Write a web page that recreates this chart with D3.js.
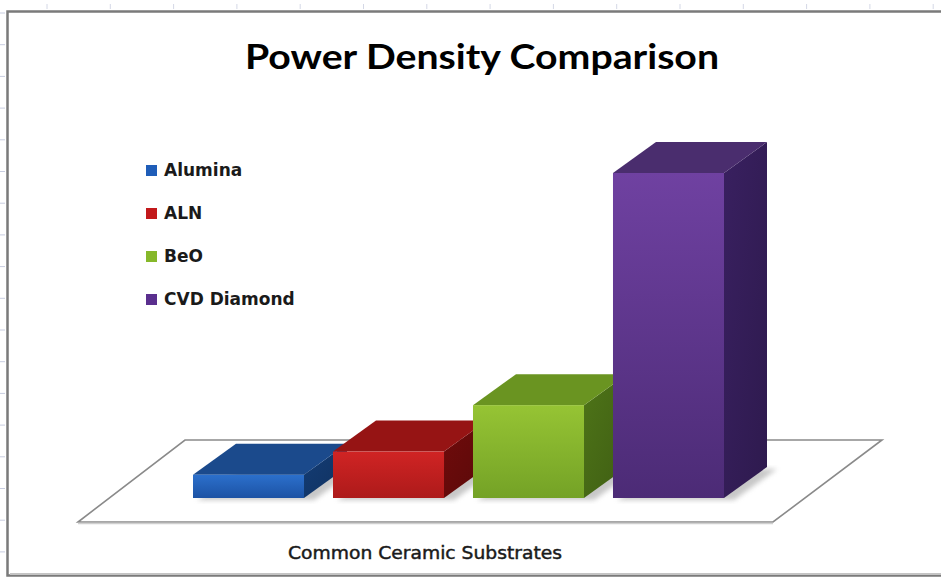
<!DOCTYPE html>
<html>
<head>
<meta charset="utf-8">
<script src="https://cdn.jsdelivr.net/npm/d3@7"></script>
<style>
  body { margin: 0; background: #fff; }
  svg { display: block; }
</style>
</head>
<body>
<div id="chart"></div>
<script>
// chart data
var categories = ["Alumina", "ALN", "BeO", "CVD Diamond"];
var values = [1, 2, 4, 14]; // relative power density
var frontTop = ["#2c70cc", "#d02424", "#96c434", "#6f41a1"];
var frontBottom = ["#1c52a4", "#ad1a1a", "#74a226", "#4c2b76"];
var topFace = ["#1b4a8c", "#961414", "#6a9421", "#4a2d6e"];
var sideFace = ["#143d76", "#700b0b", "#4e7418", "#392060"];
var legendColor = ["#1f5db8", "#c2191b", "#86b82a", "#5a2f8e"];

var W = 941, H = 580;
var svg = d3.select("#chart").append("svg")
    .attr("width", W)
    .attr("height", H);

var defs = svg.append("defs");

// excel-ish gradients on the bar faces
categories.forEach(function (c, i) {
    var g = defs.append("linearGradient").attr("id", "front" + i)
        .attr("x1", 0).attr("y1", 0).attr("x2", 0).attr("y2", 1);
    g.append("stop").attr("offset", "0%").attr("stop-color", frontTop[i]);
    g.append("stop").attr("offset", "100%").attr("stop-color", frontBottom[i]);

    var s = defs.append("linearGradient").attr("id", "side" + i)
        .attr("x1", 0).attr("y1", 0).attr("x2", 1).attr("y2", 1);
    s.append("stop").attr("offset", "0%").attr("stop-color", sideFace[i]);
    s.append("stop").attr("offset", "100%").attr("stop-color", d3.color(sideFace[i]).darker(0.6));
});

defs.append("filter").attr("id", "blur")
    .append("feGaussianBlur").attr("stdDeviation", 2.5);

// spreadsheet cell ticks around the chart object
var topTicks = d3.range(47, W, 63.3);
svg.append("g").selectAll("line").data(topTicks).enter().append("line")
    .attr("x1", function (d) { return d; }).attr("x2", function (d) { return d; })
    .attr("y1", 4).attr("y2", 9)
    .attr("stroke", "#d4d8e6").attr("stroke-width", 1);
var leftTicks = d3.range(13, H - 20, 31.7);
svg.append("g").selectAll("line").data(leftTicks).enter().append("line")
    .attr("x1", 0).attr("x2", 5)
    .attr("y1", function (d) { return d; }).attr("y2", function (d) { return d; })
    .attr("stroke", "#c8cde0").attr("stroke-width", 1);

// chart frame
svg.append("rect")
    .attr("x", 7.5).attr("y", 11.5)
    .attr("width", W + 5).attr("height", 564)
    .attr("fill", "#fff")
    .attr("stroke", "#7a7a7a").attr("stroke-width", 2.5);
svg.append("line")
    .attr("x1", 10).attr("x2", W).attr("y1", 574).attr("y2", 574)
    .attr("stroke", "#c4c4c4").attr("stroke-width", 2);

// scales
var x = d3.scaleBand()
    .domain(categories)
    .range([193, 724])
    .paddingInner(0.207)
    .paddingOuter(0);

var y = d3.scaleLinear()
    .domain([0, 14])
    .range([498, 173]);

var dx = 43, dy = -31; // depth of a bar

// floor plane
var base = y(0);
var floor = [
    [x.range()[0] - 115, base + 24],
    [x.range()[1] + 49, base + 24],
    [x.range()[1] + 158, base - 58],
    [x.range()[0] - 8, base - 58]
];
svg.append("polygon")
    .attr("points", floor.map(function (p) { return p.join(","); }).join(" "))
    .attr("fill", "#fff")
    .attr("stroke", "#8a8a8a")
    .attr("stroke-width", 1.6);
svg.append("line")
    .attr("x1", floor[0][0]).attr("x2", floor[1][0])
    .attr("y1", floor[0][1] + 1.5).attr("y2", floor[1][1] + 1.5)
    .attr("stroke", "#d0d0d0").attr("stroke-width", 1.5);

var bars = categories.map(function (c, i) {
    return { name: c, value: values[i], i: i };
});

// soft shadows on the floor
svg.append("g").selectAll("polygon").data(bars).enter().append("polygon")
    .attr("points", function (d) {
        var x0 = x(d.name) + 4, x1 = x(d.name) + x.bandwidth() + 10;
        return [[x0, base + 2], [x1, base + 2], [x1 + dx, base + dy + 2], [x0 + dx, base + dy + 2]]
            .map(function (p) { return p.join(","); }).join(" ");
    })
    .attr("fill", "#9a9a9a")
    .attr("opacity", 0.55)
    .attr("filter", "url(#blur)");

// 3d bars
var g = svg.append("g").selectAll("g").data(bars).enter().append("g");

g.append("polygon") // side
    .attr("points", function (d) {
        var x1 = x(d.name) + x.bandwidth(), yt = y(d.value);
        return [[x1, yt], [x1 + dx, yt + dy], [x1 + dx, base + dy], [x1, base]]
            .map(function (p) { return p.join(","); }).join(" ");
    })
    .attr("fill", function (d) { return "url(#side" + d.i + ")"; });

g.append("polygon") // top
    .attr("points", function (d) {
        var x0 = x(d.name), x1 = x0 + x.bandwidth(), yt = y(d.value);
        return [[x0, yt], [x1, yt], [x1 + dx, yt + dy], [x0 + dx, yt + dy]]
            .map(function (p) { return p.join(","); }).join(" ");
    })
    .attr("fill", function (d) { return topFace[d.i]; });

g.append("rect") // front
    .attr("x", function (d) { return x(d.name); })
    .attr("y", function (d) { return y(d.value); })
    .attr("width", x.bandwidth())
    .attr("height", function (d) { return base - y(d.value); })
    .attr("fill", function (d) { return "url(#front" + d.i + ")"; });

// title
svg.append("text")
    .attr("x", 482).attr("y", 69)
    .attr("text-anchor", "middle")
    .attr("font-family", "Lato, 'Open Sans', sans-serif")
    .attr("font-weight", "bold")
    .attr("font-size", 34)
    .attr("textLength", 474)
    .attr("lengthAdjust", "spacingAndGlyphs")
    .attr("fill", "#000")
    .text("Power Density Comparison");

// category axis title
svg.append("text")
    .attr("x", 425).attr("y", 559)
    .attr("text-anchor", "middle")
    .attr("font-family", "'DejaVu Sans', sans-serif")
    .attr("font-size", 17)
    .attr("textLength", 274)
    .attr("lengthAdjust", "spacingAndGlyphs")
    .attr("fill", "#1a1a1a")
    .attr("stroke", "#1a1a1a")
    .attr("stroke-width", 0.45)
    .text("Common Ceramic Substrates");

// legend
var leg = svg.append("g").selectAll("g").data(bars).enter().append("g")
    .attr("transform", function (d) { return "translate(146," + (176 + d.i * 43) + ")"; });
leg.append("rect")
    .attr("x", 0).attr("y", -11)
    .attr("width", 11).attr("height", 11)
    .attr("fill", function (d) { return legendColor[d.i]; });
leg.append("text")
    .attr("x", 18).attr("y", 0)
    .attr("font-family", "'DejaVu Sans', sans-serif")
    .attr("font-weight", "bold")
    .attr("font-size", 17)
    .attr("fill", "#1a1a1a")
    .text(function (d) { return d.name; });
</script>
</body>
</html>
